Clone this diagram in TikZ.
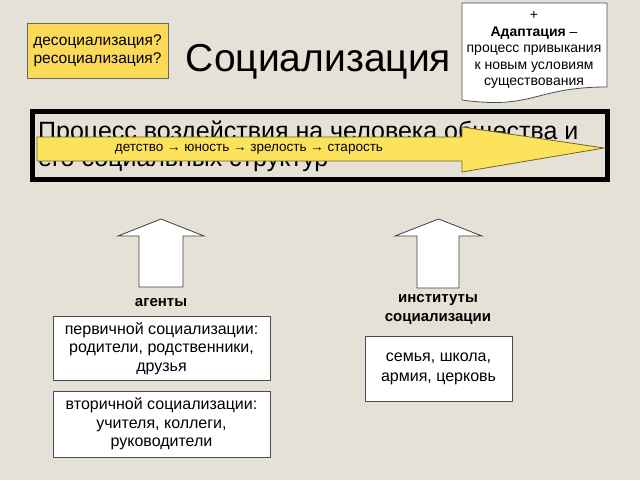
\documentclass[tikz,border=0pt]{standalone}
\usepackage{fontspec}
\setmainfont{Liberation Sans}
\usetikzlibrary{positioning}

\definecolor{paper}{RGB}{230,225,215}
\definecolor{boxyellow}{RGB}{252,218,88}
\definecolor{arrowyellow}{RGB}{253,226,92}
\definecolor{arrowline}{RGB}{110,100,40}
\newcommand{\fsz}[2]{\fontsize{#1}{#2}\selectfont}

\begin{document}
\begin{tikzpicture}[x=1pt,y=-1pt,
    whitebox/.style={draw=black!70,fill=white,line width=0.8pt,align=center,inner sep=0pt,font=\fsz{16}{18.5}},
    upblock/.style={draw=black!75,fill=white,line width=0.8pt},
    tag/.style={font=\bfseries\fsz{15}{19},align=center}]
        \fill[paper] (0,0) rectangle (640,480);

        \node[draw=black!60,fill=boxyellow,minimum width=141,minimum height=55,inner sep=0pt,align=center,font=\fsz{15.5}{18}] (desoc) at (97.5,50.5) {десоциализация?\\ресоциализация?};
        \node[font=\fsz{39}{39}] (title) at (318.5,62) {Социализация};

        % note with wavy bottom
        \draw[draw=black!70,fill=white,line width=0.8pt] (462,3) -- (607,3) -- (607,87) .. controls (534,87) and (534,110) .. (462,100) -- cycle;
        \node[align=center,font=\fsz{14}{16.5}] (adapt) at (534,50) {+\\\textbf{Адаптация} –\\процесс привыкания\\к новым условиям\\существования};

        % process frame
        \draw[line width=5pt] (32.5,111.5) rectangle (607.5,179.5);
        \node[anchor=west,align=left,inner sep=0pt,font=\fsz{25}{27}] (process) at (38,146.5) {Процесс воздействия на человека общества и\\его социальных структур};
        \draw[draw=arrowline,fill=arrowyellow,line width=0.8pt] (37,137) -- (462,137) -- (462,127) -- (604,148) -- (462,172) -- (462,161) -- (37,161) -- cycle;
        \node[font=\fsz{13.5}{14}] (ages) at (249,149) {детство → юность → зрелость → старость};

        % agents
        \draw[upblock] (139,287) -- (139,236) -- (118,236) -- (161,219) -- (204,236) -- (183,236) -- (183,287) -- cycle;
        \node[tag] (agents) at (161,303) {агенты};
        \node[whitebox,minimum width=217,minimum height=64] (primary) at (161.5,348.5) {первичной социализации:\\родители, родственники,\\друзья};
        \node[whitebox,minimum width=217,minimum height=66] (secondary) at (161.5,424) {вторичной социализации:\\учителя, коллеги,\\руководители};

        % institutions
        \draw[upblock] (417,288) -- (417,236) -- (395,236) -- (438.5,219) -- (482,236) -- (459,236) -- (459,288) -- cycle;
        \node[tag] (inst) at (438,309) {институты\\социализации};
        \node[whitebox,minimum width=147,minimum height=65,font=\fsz{16}{20}] (family) at (438.5,368.5) {семья, школа,\\армия, церковь};
\end{tikzpicture}
\end{document}
